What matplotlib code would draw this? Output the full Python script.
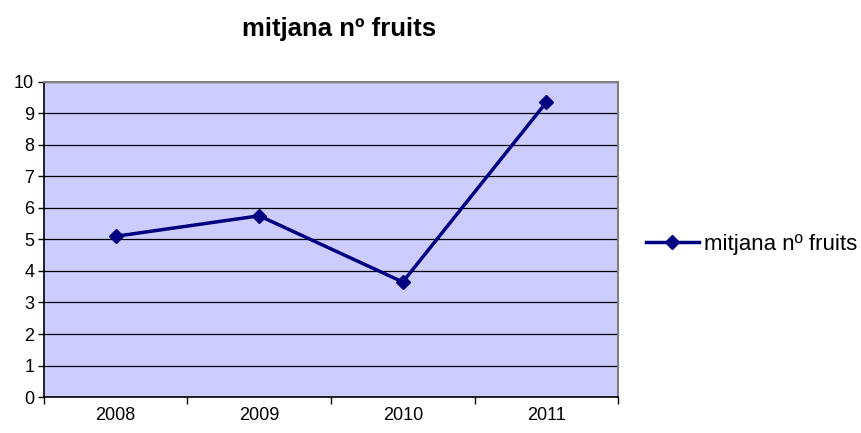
import matplotlib
matplotlib.use('Agg')
import matplotlib.pyplot as plt
from matplotlib.ticker import FixedLocator, NullFormatter

plt.rcParams['font.family'] = ['Liberation Sans', 'DejaVu Sans']

# dades
years = ['2008', '2009', '2010', '2011']
values = [5.1, 5.75, 3.65, 9.35]
series_name = 'mitjana nº fruits'

fig = plt.figure(figsize=(8.62, 4.33), dpi=100)
ax = fig.add_axes([0.051, 0.083, 0.666, 0.728])
ax.set_facecolor('#CCCCFF')

x = list(range(len(years)))
ax.plot(x, values, color='#000080', linewidth=2.5, marker='D', markersize=7,
        label=series_name, zorder=3)

ax.set_xlim(-0.5, len(years) - 0.5)
ax.set_ylim(0, 10)
ax.set_yticks(range(0, 11))
ax.yaxis.grid(True, color='black', linewidth=0.9)
ax.set_axisbelow(True)

# etiquetes centrades a les categories, marques entre categories
ax.xaxis.set_major_locator(FixedLocator([i - 0.5 for i in range(len(years) + 1)]))
ax.xaxis.set_major_formatter(NullFormatter())
ax.xaxis.set_minor_locator(FixedLocator(x))
ax.set_xticklabels(years, minor=True)
ax.tick_params(axis='x', which='minor', length=0, pad=7, labelsize=13)
ax.tick_params(axis='x', which='major', length=5, width=1, color='black')
ax.tick_params(axis='y', length=4, width=1, labelsize=13, pad=3)

for side in ['top', 'right']:
    ax.spines[side].set_color('#808080')
    ax.spines[side].set_linewidth(1.5)
for side in ['left', 'bottom']:
    ax.spines[side].set_color('black')
    ax.spines[side].set_linewidth(1.2)

fig.text(0.393, 0.932, series_name, fontsize=18.5, fontweight='bold',
         ha='center', va='center')

fig.legend(loc='center left', bbox_to_anchor=(0.726, 0.435), frameon=False,
           fontsize=16, handlelength=2.4, handletextpad=0.2)

fig.savefig('out.png', dpi=100)
